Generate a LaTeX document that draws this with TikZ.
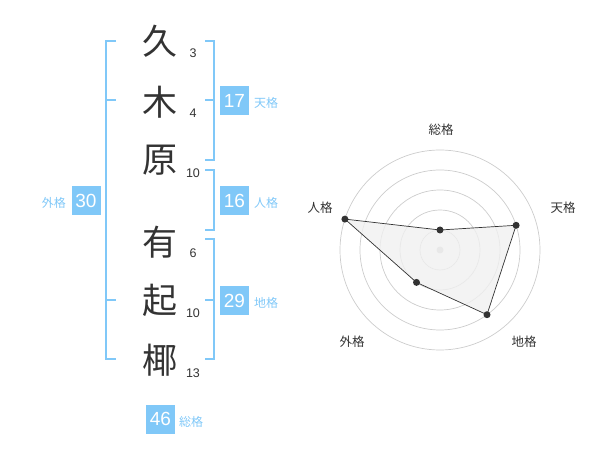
\documentclass[tikz,border=0pt]{standalone}
\usepackage{fontspec}
\setmainfont{Liberation Sans}
\newfontfamily\cjk{Noto Sans CJK JP}
\definecolor{kblue}{RGB}{128,200,248}
\definecolor{kdark}{RGB}{51,51,51}
\definecolor{kgrid}{RGB}{204,204,204}
\definecolor{kfill}{RGB}{240,240,240}
\tikzset{
  kanji/.style={font=\cjk\fontsize{35}{35}\selectfont, text=kdark, inner sep=0pt},
  stroke/.style={font=\fontsize{12.5}{12.5}\selectfont, text=kdark, inner sep=0pt},
  numbox/.style={fill=kblue, text=white, minimum width=29pt, minimum height=29pt, inner sep=0pt, font=\fontsize{19}{19}\selectfont},
  kaku/.style={text=kblue, font=\cjk\fontsize{12}{12}\selectfont, inner sep=0pt},
  bracket/.style={draw=kblue, line width=2pt},
  grid/.style={draw=kgrid, line width=0.7pt},
  axlabel/.style={text=kdark, font=\cjk\fontsize{12.5}{12.5}\selectfont, inner sep=0pt},
  dot/.style={circle, fill=kdark, minimum size=7pt, inner sep=0pt},
}
\begin{document}
\begin{tikzpicture}[x=1pt,y=-1pt]
\useasboundingbox (0,0) rectangle (600,470);
% characters
\node[kanji] (c1) at (160,41) {久};
\node[kanji] (c2) at (160,102) {木};
\node[kanji] (c3) at (160,160) {原};
\node[kanji] (c4) at (160,242) {有};
\node[kanji] (c5) at (160,300) {起};
\node[kanji] (c6) at (160,360) {椰};
% stroke counts
\node[stroke] (s1) at (193,53) {3};
\node[stroke] (s2) at (193,113) {4};
\node[stroke] (s3) at (193,173) {10};
\node[stroke] (s4) at (193,253) {6};
\node[stroke] (s5) at (193,313) {10};
\node[stroke] (s6) at (193,373) {13};
% left bracket (gaikaku)
\draw[bracket] (116,41) -- (106,41) -- (106,359) -- (116,359);
\draw[bracket] (106,100) -- (116,100);
\draw[bracket] (106,300) -- (116,300);
% right brackets
\draw[bracket] (205,41) -- (214,41) -- (214,160) -- (205,160);
\draw[bracket] (214,100) -- (205,100);
\draw[bracket] (205,170) -- (214,170) -- (214,230) -- (205,230);
\draw[bracket] (205,239) -- (214,239) -- (214,359) -- (205,359);
\draw[bracket] (214,300) -- (205,300);
% boxes
\node[numbox] (b17) at (234.5,100.5) {17};
\node[kaku, anchor=west] (l17) at (254,103) {天格};
\node[numbox] (b16) at (234.5,200.5) {16};
\node[kaku, anchor=west] (l16) at (254,203) {人格};
\node[numbox] (b29) at (234.5,300.5) {29};
\node[kaku, anchor=west] (l29) at (254,303) {地格};
\node[numbox] (b30) at (86,200.5) {30};
\node[kaku, anchor=east] (l30) at (66,203) {外格};
\node[numbox] (b46) at (160.5,419) {46};
\node[kaku, anchor=west] (l46) at (179,422) {総格};
% radar chart
\coordinate (ctr) at (440,250);
\foreach \r in {20,40,60,80,100} \draw[grid] (ctr) circle[radius=\r];
\fill[kgrid] (ctr) circle[radius=3.5];
\coordinate (pSo) at (440,230);
\coordinate (pTen) at (516.1,225.3);
\coordinate (pChi) at (487.0,314.7);
\coordinate (pGai) at (416.5,282.4);
\coordinate (pJin) at (344.9,219.1);
\filldraw[fill=kfill, fill opacity=0.8, draw=kdark, line width=0.7pt] (pSo) -- (pTen) -- (pChi) -- (pGai) -- (pJin) -- cycle;
\foreach \p in {pSo,pTen,pChi,pGai,pJin} \node[dot] (d\p) at (\p) {};
\node[axlabel] (aSo) at (441,130) {総格};
\node[axlabel] (aTen) at (563,208) {天格};
\node[axlabel] (aChi) at (524,342) {地格};
\node[axlabel] (aGai) at (352,342) {外格};
\node[axlabel] (aJin) at (320,208) {人格};
\end{tikzpicture}
\end{document}
